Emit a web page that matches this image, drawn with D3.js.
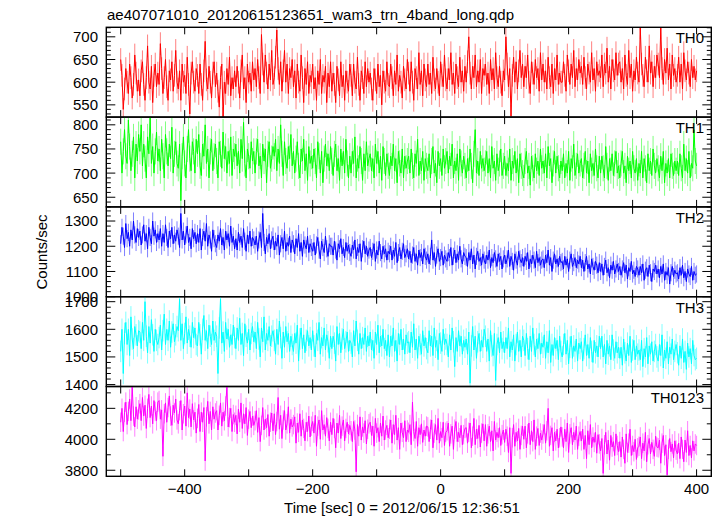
<!DOCTYPE html>
<html><head><meta charset="utf-8">
<script src="https://cdn.jsdelivr.net/npm/d3@7"></script>
<style>body{margin:0;background:#fff}svg{display:block}</style>
</head><body><svg id="c" width="723" height="516"></svg>
<script>
const title = "ae407071010_20120615123651_wam3_trn_4band_long.qdp";
const xLabel = "Time [sec] 0 = 2012/06/15 12:36:51";
const yLabel = "Counts/sec";
const bands = ["TH0", "TH1", "TH2", "TH3", "TH0123"];
const colors = ["#ff0000", "#00ff00", "#0000ff", "#00ffff", "#ff00ff"];
const tStart = -500, tStep = 2;

const th0 = [
650,615,540,585,630,600,575,640,610,565,595,660,620,580,605,
570,625,645,595,560,610,680,600,585,635,555,615,640,590,620,
595,685,630,575,610,650,590,560,625,605,645,580,615,670,600,
585,625,560,640,600,615,575,655,595,530,620,645,600,580,630,
615,575,640,595,560,625,690,605,585,635,600,565,620,645,590,
620,580,545,610,640,520,600,575,630,595,655,570,610,585,625,
590,635,600,565,625,660,585,610,555,640,600,620,580,645,605,
630,590,650,610,575,705,640,600,660,620,585,640,605,670,595,
610,655,715,630,595,645,580,625,670,600,640,575,630,610,650,
590,625,565,640,600,580,660,610,555,630,595,645,575,615,600,
640,585,610,560,625,595,650,575,615,600,635,555,620,590,645,
580,620,595,555,635,605,570,645,590,615,560,625,600,580,640,
615,570,640,600,585,655,595,560,625,610,575,645,590,630,600,
620,585,560,630,605,575,640,590,615,550,625,600,580,645,595,
590,640,610,570,625,595,660,580,615,600,565,635,605,585,650,
620,580,645,600,560,630,610,585,665,595,625,570,640,605,590,
640,595,620,575,655,605,585,630,600,570,645,615,590,660,605,
585,630,605,665,595,620,575,640,610,590,655,600,625,580,635,
600,645,700,620,585,635,610,660,590,625,600,650,575,630,615,
640,595,620,575,650,605,630,585,665,610,590,635,600,570,625,
605,700,640,590,630,525,615,655,600,645,585,625,670,610,640,
590,635,610,660,600,575,645,620,595,650,610,630,580,665,605,
640,600,625,585,655,610,590,640,575,630,605,660,595,620,600,
600,645,615,580,660,625,595,640,610,670,590,630,605,650,620,
635,595,655,610,585,640,620,600,665,605,630,580,645,615,625,
610,660,590,640,620,675,600,635,585,650,625,605,665,615,640,
645,600,630,585,660,615,595,670,610,640,580,625,605,655,620,
600,720,640,615,590,655,625,600,680,620,645,590,635,610,660,
640,610,720,630,595,650,620,675,605,640,585,660,615,630,600,
615,655,600,640,585,665,625,605,645,620,590,650,610,635,605,
625];

const th1 = [
765,700,745,790,735,720,810,755,705,740,775,690,760,725,780,
745,800,715,760,730,690,775,740,815,720,755,700,745,785,725,
750,705,770,735,690,780,745,715,760,730,795,700,740,765,720,
710,760,643,735,775,720,690,750,790,730,705,765,745,700,770,
740,780,715,695,760,735,800,720,750,690,745,770,705,735,760,
725,690,765,740,710,785,730,755,700,745,720,775,695,750,735,
760,715,745,700,770,730,805,720,690,750,735,710,765,725,745,
700,745,770,715,735,690,760,725,750,680,740,765,710,730,755,
735,770,705,750,720,800,740,695,765,725,710,755,730,780,715,
745,700,730,765,715,690,750,725,770,705,740,685,755,720,735,
710,750,725,690,765,735,700,745,680,730,760,715,740,705,755,
725,695,740,760,705,730,685,750,715,745,700,770,720,690,735,
700,745,720,775,690,730,710,755,725,685,740,705,765,715,730,
740,705,730,690,760,720,745,700,735,685,755,725,695,740,715,
695,735,715,760,705,730,680,745,720,700,750,690,735,710,725,
735,700,750,715,690,740,720,770,695,725,705,745,685,730,715,
705,740,690,725,755,700,720,680,745,715,730,695,750,710,725,
745,700,735,715,760,690,725,705,740,685,750,720,700,735,715,
690,730,705,750,715,680,740,790,700,725,695,745,710,730,705,
720,745,700,730,690,755,710,725,685,740,705,720,750,695,715,
735,695,720,705,750,685,725,710,745,700,730,680,740,715,700,
690,725,745,700,715,675,735,710,690,740,705,725,695,750,710,
725,700,740,690,755,715,730,680,720,745,700,735,710,690,725,
705,740,690,720,700,745,685,730,710,760,695,715,740,700,720,
730,690,715,745,700,725,680,740,705,720,695,750,710,690,735,
700,735,710,690,755,715,685,730,705,740,695,720,745,700,715,
690,720,745,700,715,680,735,705,725,690,745,710,700,730,685,
720,700,745,690,730,710,680,740,705,725,695,750,715,700,730,
710,690,735,705,745,680,720,700,730,690,740,715,695,725,705,
725,695,740,710,690,760,705,730,700,745,690,720,710,790,725,
715];

const th2 = [
1210,1275,1240,1195,1290,1230,1255,1200,1265,1225,1300,1245,1215,1270,1235,
1260,1205,1245,1285,1220,1250,1190,1275,1235,1210,1300,1240,1265,1215,1250,
1225,1270,1200,1250,1215,1285,1235,1195,1260,1230,1275,1210,1245,1220,1265,
1240,1195,1330,1225,1260,1205,1245,1280,1215,1235,1190,1270,1230,1255,1210,
1250,1215,1270,1185,1235,1260,1220,1290,1200,1245,1225,1180,1265,1230,1210,
1195,1245,1220,1270,1205,1235,1185,1260,1225,1250,1200,1280,1215,1240,1190,
1230,1185,1255,1215,1240,1195,1270,1220,1180,1245,1210,1260,1200,1235,1225,
1205,1240,1180,1225,1255,1195,1330,1215,1170,1235,1210,1250,1190,1225,1240,
1185,1220,1200,1245,1165,1210,1235,1190,1260,1180,1215,1200,1240,1175,1225,
1210,1170,1230,1195,1250,1180,1215,1160,1225,1205,1190,1240,1175,1210,1195,
1180,1215,1165,1205,1235,1185,1150,1220,1195,1175,1240,1190,1160,1210,1200,
1200,1165,1220,1185,1145,1210,1190,1230,1170,1195,1155,1215,1180,1205,1175,
1160,1205,1185,1225,1150,1195,1175,1210,1140,1190,1220,1170,1200,1160,1185,
1195,1155,1180,1210,1140,1185,1165,1220,1175,1150,1200,1170,1190,1145,1180,
1170,1200,1145,1185,1160,1215,1135,1175,1195,1150,1180,1210,1155,1170,1190,
1150,1180,1135,1165,1195,1140,1170,1125,1185,1155,1175,1130,1190,1160,1145,
1170,1130,1160,1225,1145,1175,1120,1165,1190,1140,1155,1180,1125,1165,1150,
1140,1175,1155,1195,1125,1160,1185,1135,1170,1145,1200,1150,1130,1175,1160,
1155,1120,1175,1145,1190,1130,1165,1110,1160,1180,1140,1155,1125,1170,1145,
1130,1165,1145,1185,1115,1155,1135,1175,1150,1120,1170,1140,1160,1110,1150,
1165,1130,1150,1185,1120,1160,1140,1105,1170,1145,1125,1180,1150,1135,1155,
1120,1160,1140,1175,1110,1150,1130,1165,1145,1115,1180,1135,1155,1125,1145,
1150,1115,1165,1135,1185,1125,1155,1100,1145,1170,1130,1150,1120,1160,1135,
1140,1110,1160,1125,1150,1100,1145,1170,1120,1135,1155,1115,1145,1130,1160,
1115,1145,1100,1135,1160,1110,1130,1090,1150,1120,1105,1140,1125,1095,1135,
1100,1130,1085,1120,1145,1095,1115,1075,1125,1105,1140,1090,1110,1130,1100,
1120,1085,1110,1135,1095,1125,1070,1115,1100,1140,1090,1105,1080,1120,1110,
1085,1120,1095,1130,1065,1105,1115,1080,1125,1095,1060,1110,1100,1125,1090,
1110,1075,1120,1090,1130,1065,1100,1085,1115,1050,1095,1120,1080,1105,1090,
1095,1070,1115,1085,1125,1075,1100,1060,1110,1090,1080,1120,1065,1100,1085,
1090];

const th3 = [
1520,1600,1440,1585,1625,1545,1600,1505,1645,1565,1530,1610,1580,1540,1595,
1590,1530,1625,1560,1700,1575,1515,1610,1550,1635,1580,1520,1600,1560,1545,
1570,1615,1525,1595,1655,1545,1600,1560,1630,1535,1590,1620,1555,1580,1610,
1595,1710,1560,1620,1530,1585,1645,1550,1600,1575,1535,1625,1570,1605,1545,
1540,1625,1580,1510,1600,1650,1560,1595,1530,1615,1575,1545,1630,1560,1590,
1575,1440,1605,1710,1550,1590,1520,1625,1565,1600,1535,1580,1545,1615,1570,
1530,1605,1560,1640,1545,1585,1505,1620,1575,1550,1600,1525,1585,1610,1555,
1590,1530,1625,1565,1500,1605,1555,1645,1525,1585,1560,1610,1540,1575,1595,
1560,1510,1600,1545,1630,1570,1495,1590,1535,1610,1555,1585,1520,1575,1545,
1520,1585,1550,1615,1485,1565,1605,1530,1580,1515,1560,1595,1540,1570,1525,
1595,1540,1500,1585,1560,1625,1510,1570,1540,1605,1525,1580,1555,1495,1575,
1530,1575,1550,1485,1610,1545,1585,1515,1565,1600,1530,1555,1590,1520,1560,
1550,1500,1595,1540,1630,1560,1510,1585,1530,1570,1545,1605,1520,1575,1540,
1590,1525,1560,1495,1590,1545,1615,1515,1575,1540,1600,1530,1560,1505,1580,
1500,1575,1540,1605,1520,1560,1485,1585,1545,1600,1525,1565,1510,1580,1550,
1555,1515,1590,1535,1620,1525,1565,1495,1575,1545,1510,1595,1540,1570,1530,
1515,1595,1540,1575,1505,1605,1535,1560,1490,1585,1550,1520,1600,1545,1565,
1545,1500,1580,1525,1605,1555,1465,1570,1520,1595,1540,1575,1510,1560,1535,
1565,1510,1590,1405,1540,1610,1525,1575,1495,1555,1585,1520,1560,1535,1600,
1575,1520,1565,1485,1595,1540,1505,1585,1415,1545,1570,1515,1590,1530,1555,
1515,1570,1530,1605,1500,1555,1525,1580,1485,1545,1590,1520,1560,1500,1575,
1560,1505,1585,1530,1490,1575,1520,1605,1545,1500,1565,1530,1585,1510,1550,
1535,1580,1495,1555,1515,1595,1480,1545,1505,1570,1530,1560,1490,1575,1520,
1500,1545,1585,1510,1560,1475,1535,1575,1495,1540,1520,1565,1485,1550,1530,
1555,1485,1530,1580,1505,1545,1495,1570,1520,1480,1560,1515,1540,1500,1575,
1530,1575,1500,1545,1475,1560,1510,1540,1490,1580,1525,1495,1555,1515,1535,
1495,1535,1470,1565,1515,1485,1550,1505,1575,1480,1525,1560,1490,1540,1510,
1525,1490,1560,1465,1530,1500,1570,1475,1540,1510,1555,1485,1520,1545,1500,
1485,1545,1505,1580,1460,1525,1495,1555,1475,1535,1510,1565,1490,1520,1545,
1515,1470,1540,1495,1565,1480,1520,1455,1550,1500,1530,1475,1560,1505,1490,
1495];

const th0123 = [
4110,4200,4050,4175,4240,4095,4180,4260,4120,4340,4150,4080,4210,4130,4190,
4230,4120,4270,4150,4220,4070,4200,4290,4140,4215,4100,4250,4180,4120,4240,
4250,4130,4190,3890,4165,4235,4110,4205,4280,4150,4090,4220,4170,4260,4125,
4100,4185,4250,4060,4165,4215,4085,4300,4140,4195,4080,4230,4125,4175,4040,
4135,4225,4050,4175,4110,4205,3860,4145,4245,4100,4180,4060,4210,4130,4170,
4185,4060,4155,4235,4085,4175,4120,4215,4340,4080,4140,4200,4050,4160,4110,
4155,4035,4195,4110,4235,4070,4165,4100,4205,4025,4130,4180,4075,4150,4090,
4120,4185,4045,4140,3985,4090,4205,4060,4130,4075,4160,4020,4110,4170,4055,
4165,4030,4115,4270,4065,4155,4005,4125,4185,4060,4100,4210,4040,4130,4080,
4095,4145,3975,4105,4045,4165,4020,4125,4070,3990,4110,4050,4150,4015,4085,
4115,4040,4155,3955,4085,4125,4000,4185,4060,4095,4020,4140,4070,3990,4110,
4030,4135,4070,3945,4105,4040,4155,4005,4085,4125,3990,4070,4110,4035,4090,
4055,3985,4115,4060,3790,4095,4020,4145,3995,4080,4040,4120,3970,4065,4100,
4110,4025,4085,3955,4135,4040,4075,3985,4105,4020,4150,3995,4060,4090,4010,
4065,4125,3975,4095,4030,4155,3995,4075,3935,4105,4045,4010,4120,3985,4060,
4045,4095,3965,4240,4050,4005,4115,3955,4075,4030,4100,3980,4060,4020,4085,
4080,3985,4065,4125,3945,4040,4095,3995,4135,3975,4050,4010,4110,3960,4045,
4055,4105,3955,4035,4085,3935,4065,4115,3985,4045,4010,4090,3965,4030,4070,
4075,3975,4045,4105,3945,4020,4135,3965,4065,4005,4090,3950,4040,4100,3990,
4095,3955,4035,4085,3985,4055,3925,4115,3995,4045,4010,4075,3960,4030,4060,
3980,4065,4020,3915,4075,3780,4010,4095,3955,4045,3990,4070,3935,4025,4085,
4000,4085,3945,4035,4105,3965,4055,3985,4125,3935,4020,4070,3960,4040,3995,
4035,4095,3975,4055,4200,3955,4025,4075,3925,4045,3990,4065,3945,4010,4080,
4015,3945,4065,3985,4105,3915,4035,4075,3965,4045,3995,4085,3935,4020,4050,
3990,4065,3935,4025,3875,4055,3965,4095,3945,4015,3980,4045,3910,4030,3970,
3925,4005,3780,3965,4045,3905,3995,3865,4025,3950,3985,3895,4035,3960,3920,
3985,3885,4015,3935,3845,4035,3915,3975,4065,3895,3960,3920,4000,3870,3945,
3955,4015,3875,3975,3925,4045,3855,3965,4005,3905,3980,3935,3890,4020,3950,
3945,3995,3845,3975,4025,3895,3965,3770,3935,4005,3920,3970,3880,3990,3930,
3905,3975,3875,4015,3935,3855,3995,3915,4055,3895,3960,3880,3990,3925,3970,
3960];

const series = [th0, th1, th2, th3, th0123];
const errors = [25, 27, 34, 39, 63];
const yDomains = [[523, 721], [630, 816], [1000, 1356], [1393, 1718], [3761, 4341]];
const yMajor = [[550, 600, 650, 700], [650, 700, 750, 800], [1000, 1100, 1200, 1300], [1400, 1500, 1600, 1700], [3800, 4000, 4200]];
const yMinorStep = [10, 10, 20, 20, 100];
const xDomain = [-522.5, 423];
const xMajor = [-500, -400, -300, -200, -100, 0, 100, 200, 300, 400];
const xLabels = [-400, -200, 0, 200, 400];

const svg = d3.select("#c");
const L = 106.3, R = 711.3, T = 27.3, B = 476.3;
const ph = (B - T) / bands.length;
const font = "'Liberation Sans', Arial, Helvetica, sans-serif";
const x = d3.scaleLinear().domain(xDomain).range([L, R]);

svg.append("text").attr("x", 107).attr("y", 19.5).attr("font-family", font)
  .attr("font-size", 15).text(title);

const fmt = v => String(v).replace("-", "\u2212");

series.forEach((vals, i) => {
  const top = T + i * ph, bot = top + ph;
  const y = d3.scaleLinear().domain(yDomains[i]).range([bot, top]);
  const g = svg.append("g");
  const cid = "clip" + i;
  svg.append("clipPath").attr("id", cid).append("rect")
    .attr("x", L).attr("y", top).attr("width", R - L).attr("height", ph);
  const pts = vals.map((v, k) => ({t: tStart + k * tStep, v}));
  const dg = g.append("g").attr("clip-path", `url(#${cid})`);
  dg.selectAll("line.err").data(pts).join("line").attr("class", "err")
    .attr("x1", d => x(d.t)).attr("x2", d => x(d.t))
    .attr("y1", d => y(d.v - errors[i])).attr("y2", d => y(d.v + errors[i]))
    .attr("stroke", colors[i]).attr("stroke-opacity", 0.5).attr("stroke-width", 1);
  dg.append("path").datum(pts)
    .attr("d", d3.line().x(d => x(d.t)).y(d => y(d.v)))
    .attr("fill", "none").attr("stroke", colors[i]).attr("stroke-width", 1);

  const [d0, d1] = yDomains[i];
  const minors = d3.range(Math.ceil(d0 / yMinorStep[i]) * yMinorStep[i], d1, yMinorStep[i]);
  const axG = g.append("g").attr("stroke", "#000").attr("stroke-width", 1);
  minors.forEach(v => {
    const maj = yMajor[i].includes(v);
    const len = maj ? 9 : 4.5;
    axG.append("line").attr("x1", L).attr("x2", L + len).attr("y1", y(v)).attr("y2", y(v));
    axG.append("line").attr("x1", R).attr("x2", R - len).attr("y1", y(v)).attr("y2", y(v));
  });
  yMajor[i].forEach(v => {
    g.append("text").attr("x", 98).attr("y", y(v)).attr("dy", "0.36em")
      .attr("text-anchor", "end").attr("font-family", font).attr("font-size", 15)
      .text(fmt(v));
  });
  xMajor.forEach(t => {
    axG.append("line").attr("x1", x(t)).attr("x2", x(t)).attr("y1", bot).attr("y2", bot - 7);
    axG.append("line").attr("x1", x(t)).attr("x2", x(t)).attr("y1", top).attr("y2", top + 7);
  });
  g.append("rect").attr("x", L).attr("y", top).attr("width", R - L).attr("height", ph)
    .attr("fill", "none").attr("stroke", "#000").attr("stroke-width", 1.4);
  g.append("text").attr("x", 704).attr("y", top + 16).attr("text-anchor", "end")
    .attr("font-family", font).attr("font-size", 15).text(bands[i]);
});

xLabels.forEach(t => {
  svg.append("text").attr("x", x(t)).attr("y", 494).attr("text-anchor", "middle")
    .attr("font-family", font).attr("font-size", 15).text(fmt(t));
});
svg.append("text").attr("x", 402).attr("y", 513).attr("text-anchor", "middle")
  .attr("font-family", font).attr("font-size", 15).text(xLabel);
svg.append("text").attr("transform", "translate(47,252) rotate(-90)")
  .attr("text-anchor", "middle").attr("font-family", font).attr("font-size", 15).text(yLabel);
</script></body></html>
